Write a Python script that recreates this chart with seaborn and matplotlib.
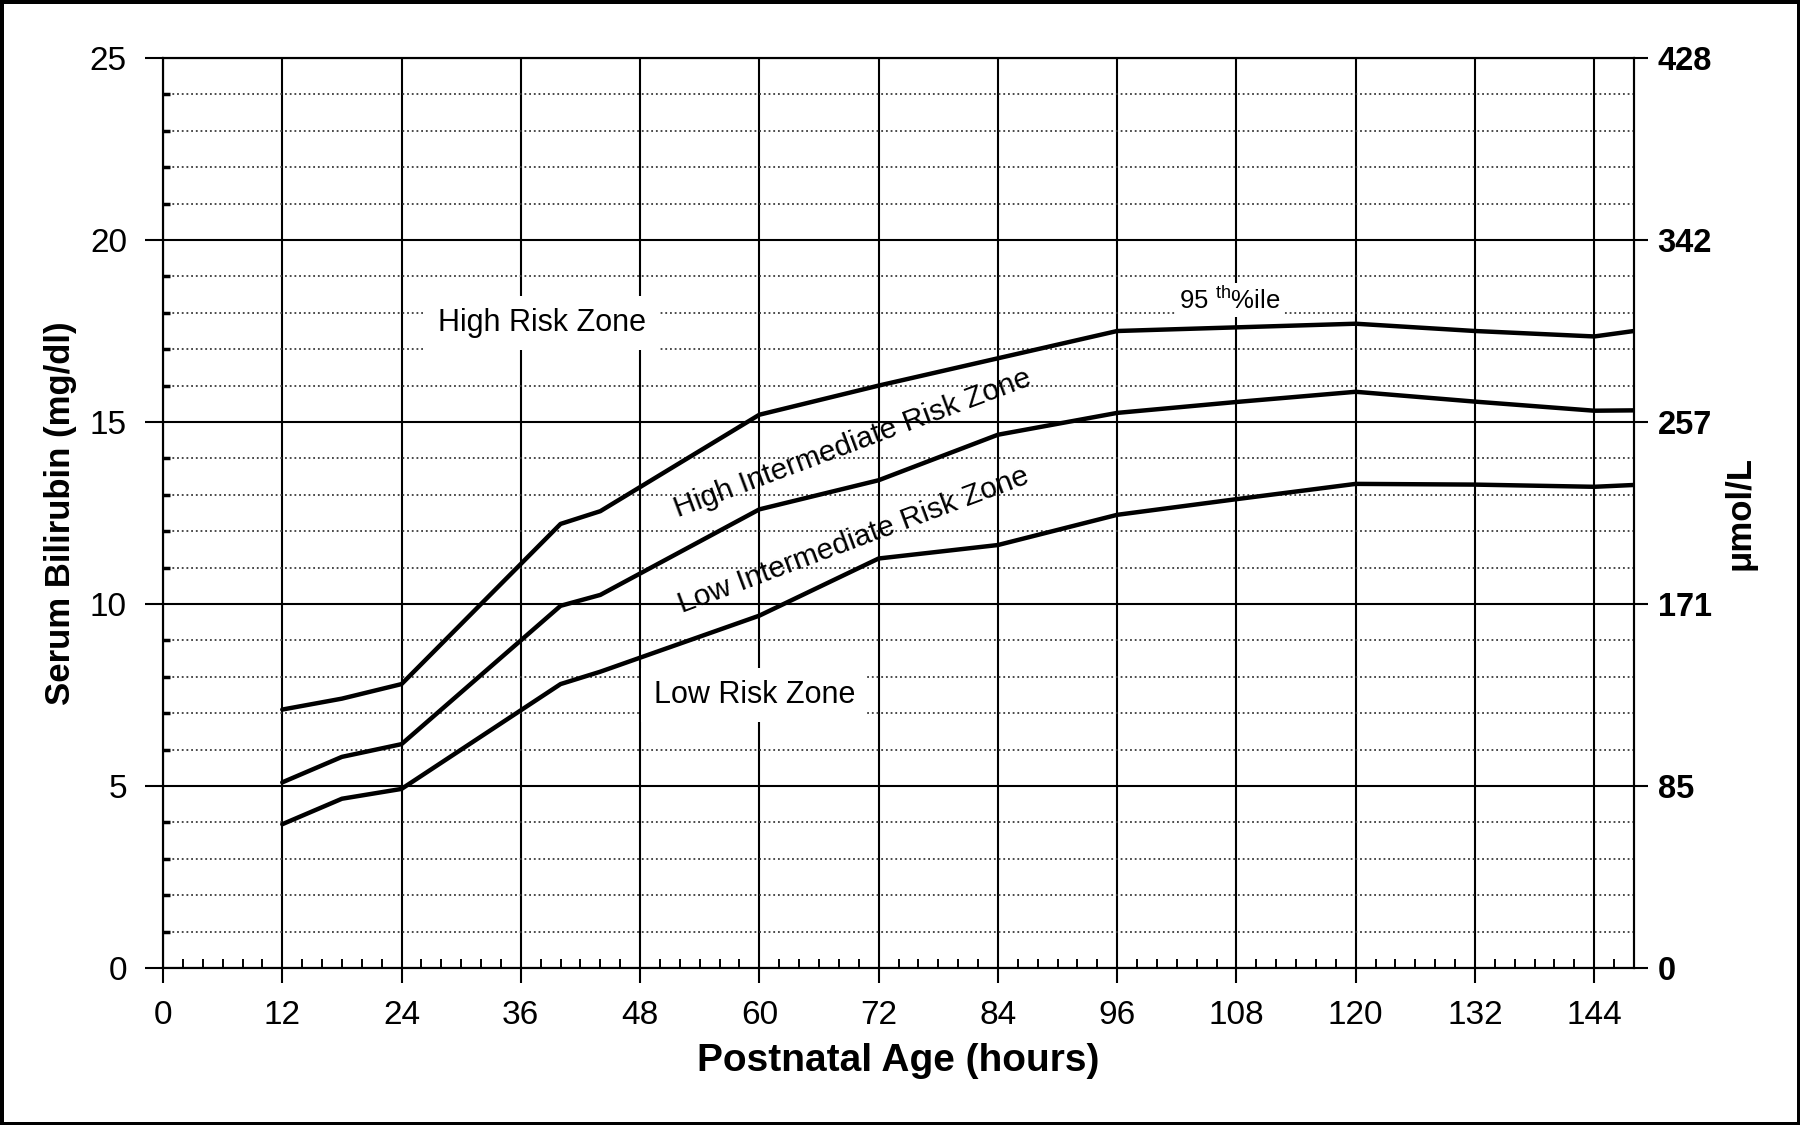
import matplotlib
matplotlib.use('Agg')
import matplotlib.pyplot as plt
import seaborn as sns
import pandas as pd

# curve vertices (hours, mg/dl)
hours = [12, 18, 24, 40, 44, 60, 72, 84, 96, 108, 120, 132, 144, 148]
p95 = [7.1, 7.4, 7.8, 12.2, 12.55, 15.2, 16.0, 16.75, 17.5, 17.6, 17.7, 17.5, 17.35, 17.5]
p75 = [5.1, 5.8, 6.15, 9.95, 10.25, 12.6, 13.4, 14.65, 15.25, 15.55, 15.83, 15.56, 15.31, 15.32]
p40 = [3.95, 4.65, 4.92, 7.8, 8.14, 9.68, 11.25, 11.62, 12.45, 12.88, 13.3, 13.28, 13.22, 13.27]

x_ticks = [0, 12, 24, 36, 48, 60, 72, 84, 96, 108, 120, 132, 144]
y_ticks_mg = [0, 5, 10, 15, 20, 25]
y_labels_umol = ['0', '85', '171', '257', '342', '428']

n = len(hours)
df = pd.DataFrame({
    'hours': hours * 3,
    'bilirubin': p95 + p75 + p40,
    'curve': ['95th'] * n + ['75th'] * n + ['40th'] * n,
})

sns.set_style('white')
plt.rcParams['font.family'] = ['Liberation Sans', 'DejaVu Sans']
plt.rcParams['mathtext.fontset'] = 'custom'
plt.rcParams['mathtext.rm'] = 'Liberation Sans'
for key in ['text.color', 'axes.labelcolor', 'xtick.color', 'ytick.color']:
    plt.rcParams[key] = 'black'

fig = plt.figure(figsize=(18, 11.25), dpi=100)
fig.patch.set_edgecolor('black')
fig.patch.set_linewidth(5)
ax = fig.add_axes([163 / 1800, 1 - 968 / 1125, (1634 - 163) / 1800, (968 - 58) / 1125])

sns.lineplot(data=df, x='hours', y='bilirubin', units='curve', estimator=None,
             color='black', linewidth=3.2, legend=False, ax=ax)

ax.set_xlim(0, 148)
ax.set_ylim(0, 25)
ax.set_xticks(x_ticks)
ax.set_xticks([h for h in range(2, 148, 2) if h % 12], minor=True)
ax.set_yticks(y_ticks_mg)
ax.set_yticks(list(range(0, 26)), minor=True)

ax.set_axisbelow(True)
ax.grid(which='major', color='black', linewidth=1.5, linestyle='-')
ax.grid(which='minor', axis='y', color='#3a3a3a', linewidth=1.3, linestyle=(0, (1, 1.6)))

ax.tick_params(axis='x', which='major', bottom=True, direction='out', length=11,
               width=1.5, pad=12, labelsize=24)
ax.tick_params(axis='x', which='minor', bottom=True, direction='in', length=6.5,
               width=1.4)
ax.tick_params(axis='y', which='major', left=True, direction='out', length=13,
               width=1.5, pad=13, labelsize=24)
ax.tick_params(axis='y', which='minor', left=True, direction='in', length=5,
               width=2.5)
for s in ax.spines.values():
    s.set_color('black')
    s.set_linewidth(1.5)

ax.set_xlabel('Postnatal Age (hours)', fontsize=28, fontweight='bold', labelpad=9)
ax.set_ylabel('Serum Bilirubin (mg/dl)', fontsize=25, fontweight='bold', labelpad=9)

ax2 = ax.twinx()
ax2.set_ylim(0, 25)
ax2.set_yticks(y_ticks_mg, labels=y_labels_umol)
ax2.tick_params(axis='y', right=True, direction='out', length=10, width=1.5,
                pad=7, labelsize=23.5)
for lbl in ax2.get_yticklabels():
    lbl.set_fontweight('bold')
for s in ax2.spines.values():
    s.set_color('black')
    s.set_linewidth(1.5)
ax2.set_ylabel('μmol/L', fontsize=25, fontweight='bold', rotation=90, labelpad=8)

box = dict(boxstyle='square,pad=0.4', fc='white', ec='none')
ax.text(38.1, 17.72, 'High Risk Zone', fontsize=22, ha='center', va='center', bbox=box)
ax.text(59.5, 7.5, 'Low Risk Zone', fontsize=22, ha='center', va='center', bbox=box)
ax.text(107.3, 18.34, r'95 $^{\mathrm{th}}$%ile', fontsize=18.5, ha='center', va='center',
        bbox=dict(boxstyle='square,pad=0.12', fc='white', ec='none'))
ax.text(69.4, 14.4, 'High Intermediate Risk Zone', fontsize=21.5, rotation=20.5,
        rotation_mode='anchor', ha='center', va='center')
ax.text(69.5, 11.76, 'Low Intermediate Risk Zone', fontsize=21.5, rotation=20.5,
        rotation_mode='anchor', ha='center', va='center')

fig.savefig('out.png', dpi=100)
